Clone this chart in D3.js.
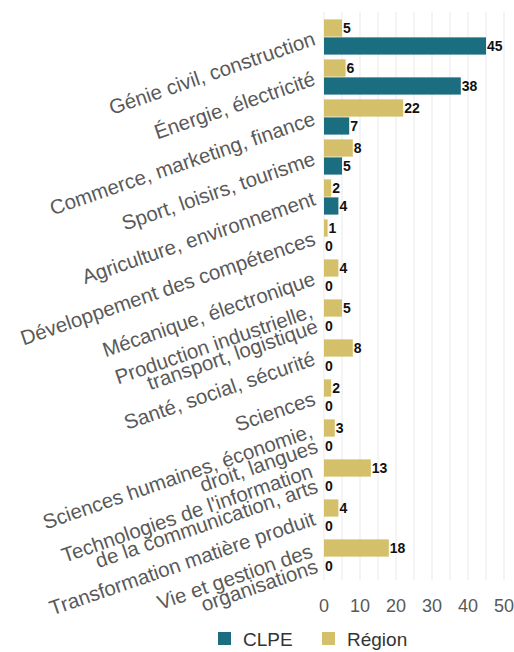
<!DOCTYPE html>
<html>
<head>
<meta charset="utf-8">
<script src="https://cdn.jsdelivr.net/npm/d3@7"></script>
<style>
  body { margin: 0; background: #fff; }
  svg text { font-family: Arial, "Liberation Sans", Helvetica, sans-serif; }
</style>
</head>
<body>
<script>
// data
const categories = [
  "Génie civil, construction",
  "Énergie, électricité",
  "Commerce, marketing, finance",
  "Sport, loisirs, tourisme",
  "Agriculture, environnement",
  "Développement des compétences",
  "Mécanique, électronique",
  "Production industrielle,\ntransport, logistique",
  "Santé, social, sécurité",
  "Sciences",
  "Sciences humaines, économie,\ndroit, langues",
  "Technologies de l'information\nde la communication, arts",
  "Transformation matière produit",
  "Vie et gestion des\norganisations"
]
const series = ["Région", "CLPE"]
const regionValues = [5, 6, 22, 8, 2, 1, 4, 5, 8, 2, 3, 13, 4, 18]
const clpeValues = [45, 38, 7, 5, 4, 0, 0, 0, 0, 0, 0, 0, 0, 0]
const xTicks = [0, 10, 20, 30, 40, 50]
const gridTicks = d3.range(0, 55, 5)
const legendOrder = ["CLPE", "Région"]

const colors = {"Région": "#d4bf6b", "CLPE": "#1b6e80"}

const width = 514, height = 652
const data = categories.map((c, i) => ({cat: c, "Région": regionValues[i], "CLPE": clpeValues[i]}))

const svg = d3.select("body").append("svg")
  .attr("width", width).attr("height", height)

const x = d3.scaleLinear().domain([0, 50]).range([324, 504])
const y = d3.scaleBand().domain(categories).range([17, 577]).paddingInner(0.12).paddingOuter(0.06)
const ys = d3.scaleBand().domain(series).range([0, y.bandwidth()]).paddingInner(0.04)

// grid
svg.append("g").selectAll("line").data(gridTicks).join("line")
  .attr("x1", d => x(d)).attr("x2", d => x(d))
  .attr("y1", 12).attr("y2", 580)
  .attr("stroke", "#e9e9e9").attr("stroke-width", 1)

// bars
const groups = svg.append("g").selectAll("g").data(data).join("g")
  .attr("transform", d => `translate(0,${y(d.cat)})`)

groups.selectAll("rect").data(d => series.map(s => ({s, v: d[s]}))).join("rect")
  .attr("x", x(0))
  .attr("y", d => ys(d.s))
  .attr("width", d => x(d.v) - x(0))
  .attr("height", ys.bandwidth())
  .attr("fill", d => colors[d.s])

groups.selectAll("text").data(d => series.map(s => ({s, v: d[s]}))).join("text")
  .attr("x", d => x(d.v) + 1)
  .attr("y", d => ys(d.s) + ys.bandwidth() / 2)
  .attr("dy", "0.36em")
  .attr("font-size", 14).attr("font-weight", "bold").attr("fill", "#111")
  .text(d => d.v)

// category labels, rotated
const lineH = 16
const labels = svg.append("g").selectAll("text").data(categories).join("text")
  .attr("transform", d => `translate(314,${y(d) + y.bandwidth() / 2}) rotate(-19)`)
  .attr("text-anchor", "end")
  .attr("font-size", 20.5)
  .attr("fill", "#595959")
labels.each(function(d) {
  const lines = d.split("\n")
  const el = d3.select(this)
  lines.forEach((l, i) => {
    el.append("tspan").attr("x", 0)
      .attr("y", 8 + (i - (lines.length - 1) / 2) * lineH)
      .text(l)
  })
})

// x axis labels
svg.append("g").selectAll("text").data(xTicks).join("text")
  .attr("x", d => x(d)).attr("y", 612)
  .attr("text-anchor", "middle")
  .attr("font-size", 18).attr("fill", "#595959")
  .text(d => d)

// legend
const legendX = {"CLPE": 218, "Région": 322}
const leg = svg.append("g").selectAll("g").data(legendOrder).join("g")
  .attr("transform", d => `translate(${legendX[d]},632)`)
leg.append("rect").attr("width", 13).attr("height", 13).attr("fill", d => colors[d])
leg.append("text").attr("x", 25).attr("y", 13.5)
  .attr("font-size", 19).attr("fill", "#333")
  .text(d => d)
</script>
</body>
</html>
